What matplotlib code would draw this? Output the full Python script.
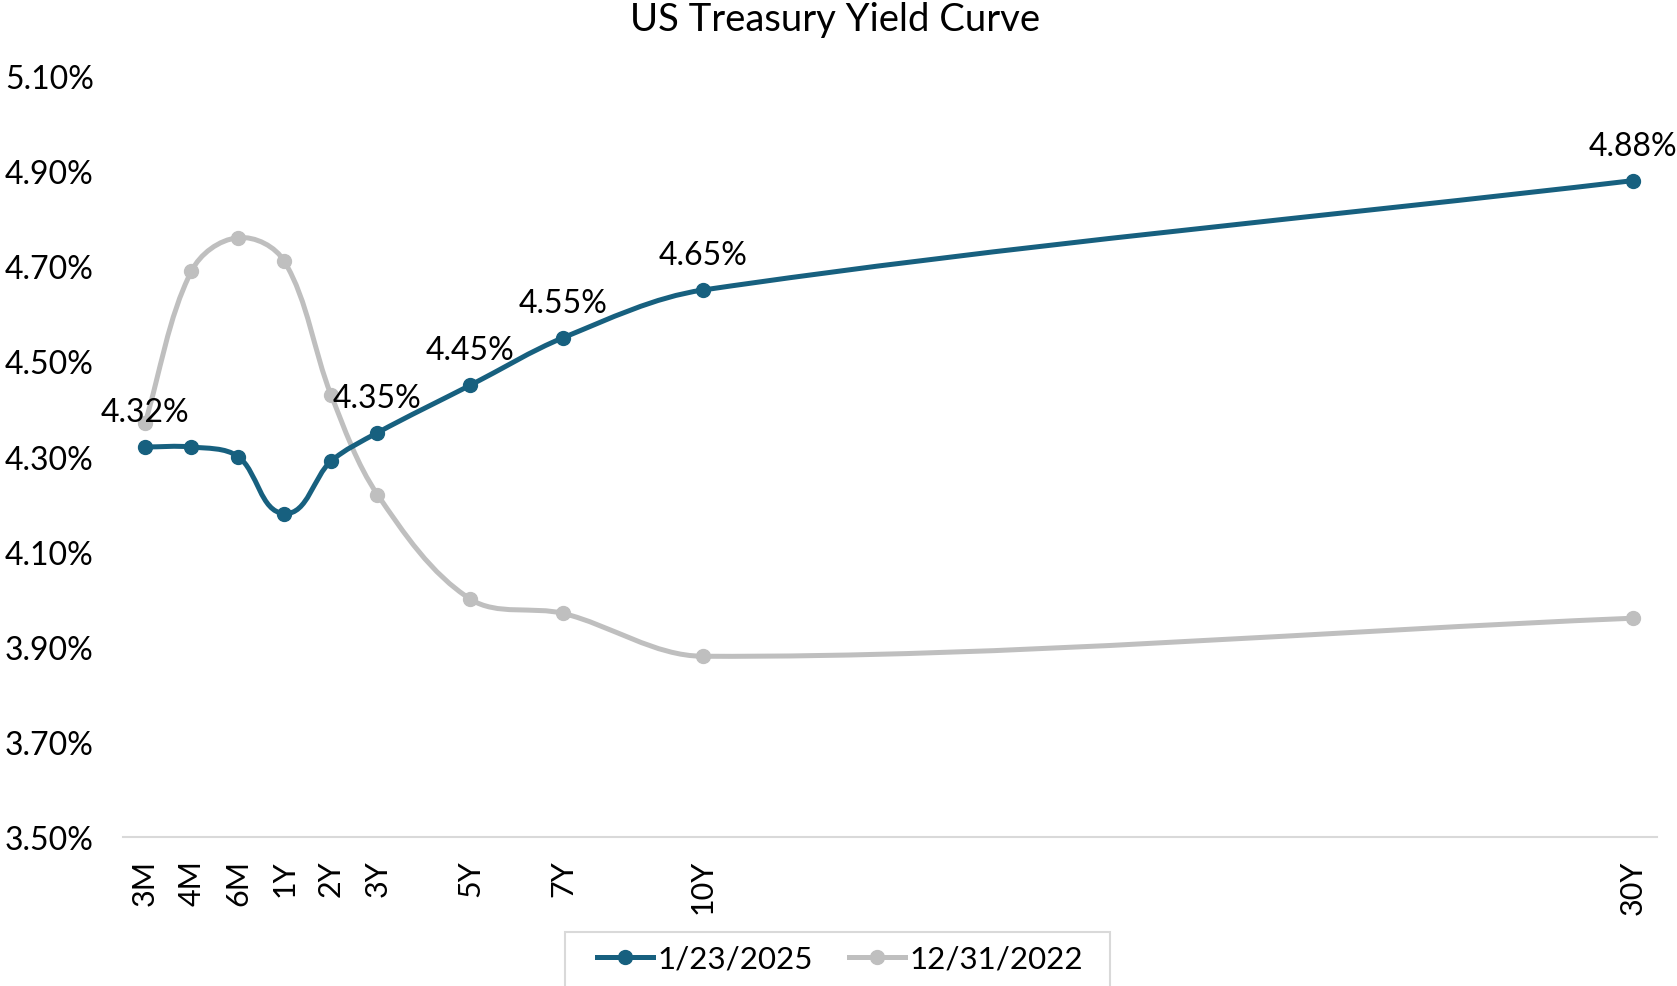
import numpy as np
import matplotlib
matplotlib.use('Agg')
import matplotlib.pyplot as plt
from matplotlib.path import Path
from matplotlib.patches import PathPatch, Rectangle
from matplotlib.lines import Line2D

plt.rcParams['font.family'] = ['Lato', 'DejaVu Sans']

# Data
tenors = ['3M', '4M', '6M', '1Y', '2Y', '3Y', '5Y', '7Y', '10Y', '30Y']
tenor_pos = [0, 1, 2, 3, 4, 5, 7, 9, 12, 32]
yield_2025 = [4.32, 4.32, 4.30, 4.18, 4.29, 4.35, 4.45, 4.55, 4.65, 4.88]
yield_2022 = [4.37, 4.69, 4.76, 4.71, 4.43, 4.22, 4.00, 3.97, 3.88, 3.96]
labelled_2025 = [0, 5, 6, 7, 8, 9]

blue = '#17607F'
gray = '#BFBFBF'
W, H = 1677, 987

fig = plt.figure(figsize=(W / 100, H / 100), dpi=100)
ax = fig.add_axes([123 / W, 1 - 838 / H, (1657 - 123) / W, (838 - 77) / H])
ax.set_xlim(-0.473, 32.52)
ax.set_ylim(3.5, 5.1)


def smooth_patch(ax, xs, ys, color, lw):
    # Excel-like smoothed line: cubic Bezier through the points, built in pixel space
    pts = ax.transData.transform(np.column_stack([xs, ys]))
    n = len(pts)
    verts = [pts[0]]
    codes = [Path.MOVETO]
    for i in range(n - 1):
        p0 = pts[i - 1] if i > 0 else pts[i]
        p1 = pts[i]
        p2 = pts[i + 1]
        p3 = pts[i + 2] if i + 2 < n else pts[i + 1]
        seg = np.linalg.norm(p2 - p1)
        t1 = (p2 - p0) / np.linalg.norm(p2 - p0)
        t2 = (p3 - p1) / np.linalg.norm(p3 - p1)
        verts += [p1 + t1 * seg / 3, p2 - t2 * seg / 3, p2]
        codes += [Path.CURVE4] * 3
    verts = ax.transData.inverted().transform(np.array(verts))
    patch = PathPatch(Path(verts, codes), facecolor='none', edgecolor=color,
                      lw=lw, capstyle='round', joinstyle='round')
    ax.add_patch(patch)


lw, ms = 3.6, 10
smooth_patch(ax, tenor_pos, yield_2022, gray, lw)
ax.plot(tenor_pos, yield_2022, 'o', color=gray, ms=ms, zorder=3)
smooth_patch(ax, tenor_pos, yield_2025, blue, lw)
ax.plot(tenor_pos, yield_2025, 'o', color=blue, ms=ms, zorder=4)

for i in labelled_2025:
    ax.annotate(f'{yield_2025[i]:.2f}%', (tenor_pos[i], yield_2025[i]),
                xytext=(0, 25), textcoords='offset points',
                ha='center', va='center', fontsize=23, color='black')

# Axes styling
ax.set_yticks(np.arange(3.5, 5.11, 0.2))
ax.set_yticklabels([f'{v:.2f}%' for v in np.arange(3.5, 5.11, 0.2)], fontsize=23)
ax.set_xticks(tenor_pos)
ax.set_xticklabels(tenors, rotation=90, fontsize=22, va='top', ha='center')
ax.tick_params(axis='y', length=0, pad=21)
ax.tick_params(axis='x', length=0, pad=16)
for side in ['top', 'right', 'left']:
    ax.spines[side].set_visible(False)
ax.spines['bottom'].set_color('#D9D9D9')
ax.spines['bottom'].set_linewidth(1.5)

fig.text(835 / W, 1 - 20 / H, 'US Treasury Yield Curve', ha='center', va='center', fontsize=27.5)

# Legend (frame drawn separately, runs off the bottom edge)
handles = [Line2D([], [], color=blue, lw=lw, marker='o', ms=ms),
           Line2D([], [], color=gray, lw=lw, marker='o', ms=ms)]
fig.legend(handles, ['1/23/2025', '12/31/2022'], loc='center', ncol=2,
           bbox_to_anchor=(840 / W, 1 - 960 / H), frameon=False, fontsize=22.5,
           handlelength=1.8, handletextpad=0.15, columnspacing=1.15)
fig.patches.append(Rectangle((565 / W, -0.05), (1110 - 565) / W, 0.05 + 1 - 933 / H,
                             transform=fig.transFigure, fill=False,
                             edgecolor='#D9D9D9', lw=1.5))

fig.savefig('out.png', dpi=100)
